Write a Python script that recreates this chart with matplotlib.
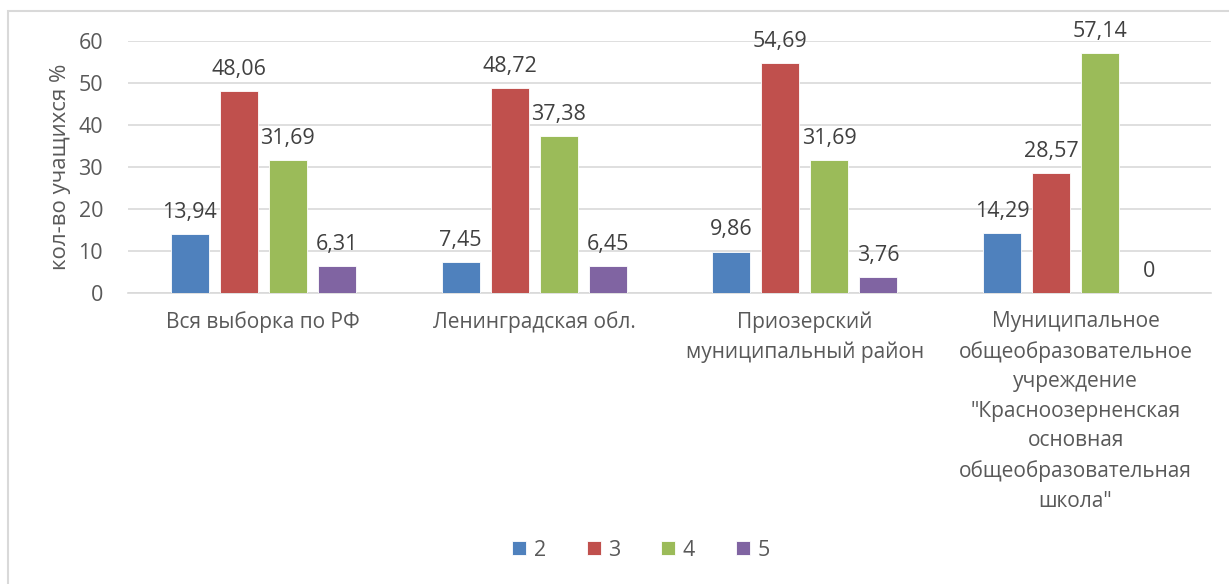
import numpy as np
import matplotlib
matplotlib.use('Agg')
import matplotlib.pyplot as plt
from matplotlib.patches import Rectangle

plt.rcParams['font.family'] = ['Open Sans', 'DejaVu Sans']

########## Data ##########
categories = ['Вся выборка по РФ',
              'Ленинградская обл.',
              'Приозерский\nмуниципальный район',
              'Муниципальное\nобщеобразовательное\nучреждение\n"Красноозерненская\nосновная\nобщеобразовательная\nшкола"']
series_names = ['2', '3', '4', '5']
grade_2 = [13.94, 7.45, 9.86, 14.29]
grade_3 = [48.06, 48.72, 54.69, 28.57]
grade_4 = [31.69, 37.38, 31.69, 57.14]
grade_5 = [6.31, 6.45, 3.76, 0]
colors = ['#4F81BD', '#C0504D', '#9BBB59', '#8064A2']

text_color = '#595959'
grid_color = '#D9D9D9'

########## Figure ##########
W, H = 1229, 584
fig = plt.figure(figsize=(W / 100, H / 100), dpi=100)
ax = fig.add_axes([128 / W, (H - 293) / H, 1083 / W, 252 / H])

x = np.arange(len(categories))
step = 0.181
width = 0.14
for i, (name, vals) in enumerate(zip(series_names, [grade_2, grade_3, grade_4, grade_5])):
    pos = x + (i - 1.5) * step
    bars = ax.bar(pos, vals, width, color=colors[i], edgecolor='white', linewidth=0.6,
                  label=name, zorder=3)
    for b, v in zip(bars, vals):
        ax.annotate(f'{v:.2f}'.replace('.', ',') if v != 0 else '0',
                    (b.get_x() + b.get_width() / 2, v),
                    xytext=(0, 8), textcoords='offset points',
                    ha='center', va='bottom', fontsize=15.5, color='#404040')

ax.set_xlim(-0.5, 3.5)
ax.set_ylim(0, 60)
ax.set_yticks(range(0, 61, 10))
ax.yaxis.grid(True, color=grid_color, lw=1.2, zorder=0)
ax.set_axisbelow(True)
for s in ['top', 'right', 'left']:
    ax.spines[s].set_visible(False)
ax.spines['bottom'].set_color(grid_color)
ax.spines['bottom'].set_linewidth(1.2)
ax.tick_params(axis='both', length=0, labelsize=15.5, colors=text_color)
ax.tick_params(axis='y', pad=18)
ax.tick_params(axis='x', pad=13)
ax.set_xticks(x)
ax.set_xticklabels(categories, linespacing=1.53, fontsize=15, color=text_color)
ax.set_ylabel('кол-во учащихся %', fontsize=16, color=text_color, labelpad=5)

leg = fig.legend(loc='center', bbox_to_anchor=(641 / W, (H - 550) / H), ncol=4,
                 frameon=False, fontsize=15.5, handlelength=0.65, handleheight=0.65,
                 columnspacing=1.9, handletextpad=0.35, labelcolor=text_color)

# chart border
fig.patches.append(Rectangle((8 / W, -0.1), 2, (H - 11) / H + 0.1, transform=fig.transFigure,
                             fill=False, edgecolor=grid_color, lw=1.5))

fig.savefig('out.png', dpi=100)
